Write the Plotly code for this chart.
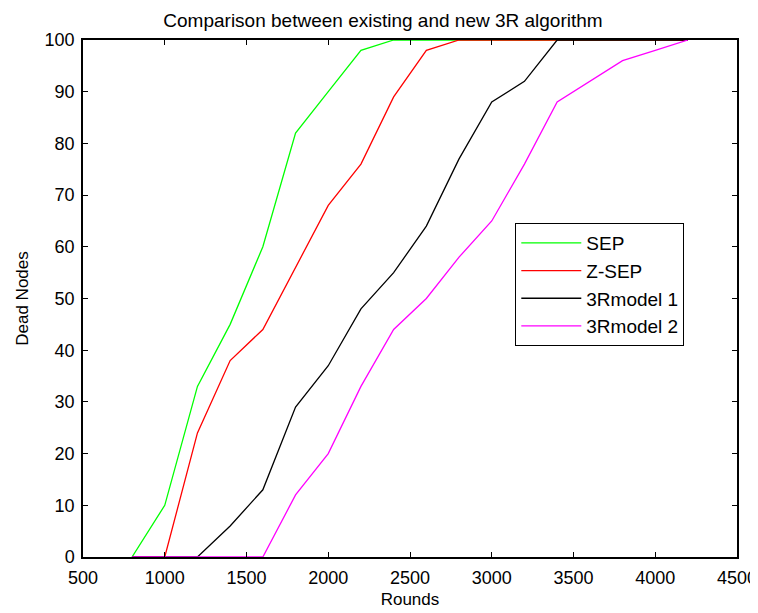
import plotly.graph_objects as go

rounds = [800, 1000, 1200, 1400, 1600, 1800, 2000, 2200, 2400, 2600, 2800, 3000, 3200, 3400, 3600, 3800, 4000, 4200]
sep = [0, 10, 33, 45, 60, 82, 90, 98, 100, 100, 100, 100, 100, 100, 100, 100, 100, 100]
zsep = [0, 0, 24, 38, 44, 56, 68, 76, 89, 98, 100, 100, 100, 100, 100, 100, 100, 100]
model1 = [0, 0, 0, 6, 13, 29, 37, 48, 55, 64, 77, 88, 92, 100, 100, 100, 100, 100]
model2 = [0, 0, 0, 0, 0, 12, 20, 33, 44, 50, 58, 65, 76, 88, 92, 96, 98, 100]

names = ["SEP", "Z-SEP", "3Rmodel 1", "3Rmodel 2"]
colors = ["#00ff00", "#ff0000", "#000000", "#ff00ff"]
series = [sep, zsep, model1, model2]

fig = go.Figure()
for n, c, s in zip(names, colors, series):
    fig.add_trace(go.Scatter(x=rounds, y=s, mode="lines", name=n,
                             line=dict(color=c, width=1.3)))

font = "Liberation Sans, Arial, sans-serif"
axis_common = dict(showgrid=False, zeroline=False, showline=True, linecolor="black",
                   linewidth=1.5, mirror="ticks", ticks="inside", ticklen=5,
                   tickcolor="black", tickwidth=1, automargin=False)

# page body has an 8px margin, so the figure is sized and offset to compensate
fig.update_layout(
    width=750, height=605,
    margin=dict(l=75, r=21, t=32, b=56),
    paper_bgcolor="white", plot_bgcolor="white",
    title=dict(text="Comparison between existing and new 3R algorithm",
               x=0.5, xanchor="center", y=0.98, yanchor="middle",
               font=dict(family=font, size=19, color="black")),
    xaxis=dict(range=[500, 4500], dtick=500, tick0=500,
               tickfont=dict(family=font, size=18, color="black"),
               ticklabelstandoff=4,
               title=dict(text="Rounds", font=dict(family=font, size=17, color="black"), standoff=6),
               **axis_common),
    yaxis=dict(range=[0, 100], dtick=10, tick0=0,
               tickfont=dict(family=font, size=18, color="black"),
               ticklabelstandoff=3,
               title=dict(text="Dead Nodes", font=dict(family=font, size=17, color="black"), standoff=12),
               **axis_common),
    legend=dict(x=0.661, y=0.646, xanchor="left", yanchor="top",
                bordercolor="black", borderwidth=1, bgcolor="white",
                font=dict(family=font, size=19, color="black"),
                tracegroupgap=0, itemwidth=60),
    showlegend=True,
)

fig.write_html("out.html")
